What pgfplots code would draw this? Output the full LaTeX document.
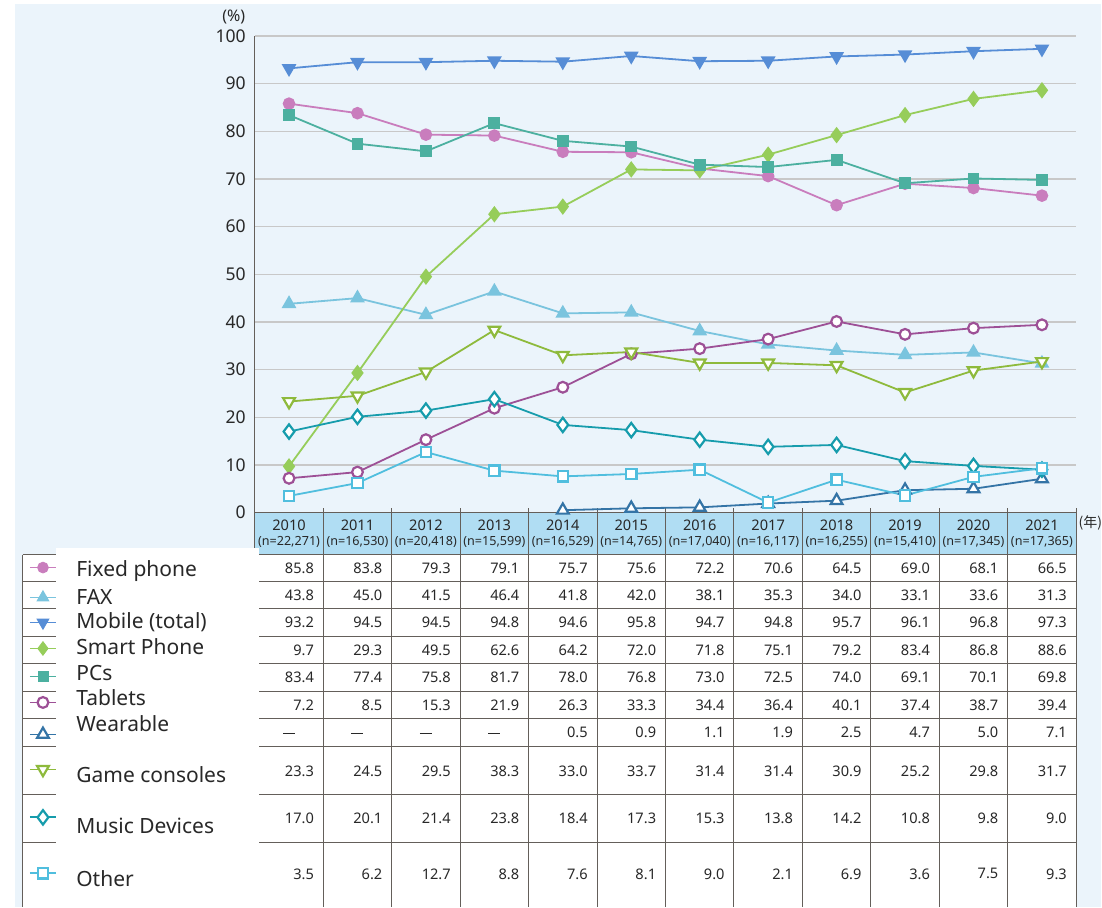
\documentclass[border=0pt]{standalone}
\usepackage{pgfplots}
\pgfplotsset{compat=1.18}
\usepackage{pgfplotstable}
\usepackage{fontspec}
\setmainfont{Noto Sans}
\newfontfamily\cjk{Noto Sans CJK JP}
\usetikzlibrary{plotmarks}

\definecolor{fixc}{RGB}{201,125,189}
\definecolor{faxc}{RGB}{122,196,222}
\definecolor{mobc}{RGB}{86,141,214}
\definecolor{smac}{RGB}{150,205,90}
\definecolor{pcsc}{RGB}{76,176,160}
\definecolor{tabc}{RGB}{157,80,150}
\definecolor{weac}{RGB}{52,116,166}
\definecolor{gamc}{RGB}{142,186,60}
\definecolor{musc}{RGB}{22,156,172}
\definecolor{othc}{RGB}{80,190,222}
\definecolor{bgc}{RGB}{235,244,251}
\definecolor{headc}{RGB}{176,221,243}
\definecolor{gridc}{RGB}{200,200,200}
\definecolor{tablec}{RGB}{100,95,90}
\definecolor{textc}{RGB}{40,40,40}

\pgfplotstableread{
year fix fax mob sma pcs tab wea gam mus oth
2010 85.8 43.8 93.2 9.7 83.4 7.2 nan 23.3 17.0 3.5
2011 83.8 45.0 94.5 29.3 77.4 8.5 nan 24.5 20.1 6.2
2012 79.3 41.5 94.5 49.5 75.8 15.3 nan 29.5 21.4 12.7
2013 79.1 46.4 94.8 62.6 81.7 21.9 nan 38.3 23.8 8.8
2014 75.7 41.8 94.6 64.2 78.0 26.3 0.5 33.0 18.4 7.6
2015 75.6 42.0 95.8 72.0 76.8 33.3 0.9 33.7 17.3 8.1
2016 72.2 38.1 94.7 71.8 73.0 34.4 1.1 31.4 15.3 9.0
2017 70.6 35.3 94.8 75.1 72.5 36.4 1.9 31.4 13.8 2.1
2018 64.5 34.0 95.7 79.2 74.0 40.1 2.5 30.9 14.2 6.9
2019 69.0 33.1 96.1 83.4 69.1 37.4 4.7 25.2 10.8 3.6
2020 68.1 33.6 96.8 86.8 70.1 38.7 5.0 29.8 9.8 7.5
2021 66.5 31.3 97.3 88.6 69.8 39.4 7.1 31.7 9.0 9.3
}\datatable

\newcommand{\tablerow}[2]{%
  \foreach \v [count=\i] in {#2} {%
    \node[anchor=east, inner sep=0pt, text=textc, font=\fontsize{7.3}{8}\selectfont] at ({255+68.5*\i-9}, #1) {\v};
  }%
}

\begin{document}
\begin{tikzpicture}
\begin{scope}[x=0.5pt,y=-0.5pt]
\path[use as bounding box, fill=white] (0,0) rectangle (1102,908);
\fill[bgc] (15,4) rectangle (1102,908);
\fill[white] (23,555) rectangle (1077,908);
\fill[headc] (255,513) rectangle (1077,555);
\end{scope}

\begin{axis}[
  at={(127.5pt,-256.5pt)}, anchor=south west,
  scale only axis, width=411pt, height=238.5pt,
  xmin=2009.5, xmax=2021.5, ymin=0, ymax=100,
  axis x line=bottom, axis y line=left,
  axis line style={-, draw=tablec, line width=0.6pt},
  xtick={2009.5,2010.5,2011.5,2012.5,2013.5,2014.5,2015.5,2016.5,2017.5,2018.5,2019.5,2020.5,2021.5},
  xticklabels={},
  tick align=inside, major tick length=2.5pt,
  xtick style={draw=tablec, line width=0.5pt},
  ytick={0,10,...,100}, ytick style={draw=none},
  ymajorgrids, grid style={gridc, line width=0.6pt},
  yticklabel style={font=\fontsize{8.8}{10}\selectfont, text=textc, xshift=-1pt},
  /pgf/number format/assume math mode=true,
  clip=false,
  every axis plot/.append style={line width=0.9pt},
]
\addplot[fixc, mark=*, mark size=2.7pt] table[x=year,y=fix] {\datatable};
\addplot[faxc, mark=triangle*, mark size=3.4pt] table[x=year,y=fax] {\datatable};
\addplot[mobc, mark=triangle*, mark size=3.4pt, mark options={rotate=180}] table[x=year,y=mob] {\datatable};
\addplot[smac, mark=diamond*, mark size=3.4pt] table[x=year,y=sma] {\datatable};
\addplot[pcsc, mark=square*, mark size=2.5pt] table[x=year,y=pcs] {\datatable};
\addplot[tabc, mark=*, mark size=2.7pt, mark options={fill=white, line width=1.1pt}] table[x=year,y=tab] {\datatable};
\addplot[weac, mark=triangle*, mark size=3.4pt, mark options={fill=white, line width=1.1pt}, unbounded coords=discard] table[x=year,y=wea] {\datatable};
\addplot[gamc, mark=triangle*, mark size=3.4pt, mark options={fill=white, rotate=180, line width=1.1pt}] table[x=year,y=gam] {\datatable};
\addplot[musc, mark=diamond*, mark size=3.6pt, mark options={fill=white, line width=1.1pt}] table[x=year,y=mus] {\datatable};
\addplot[othc, mark=square*, mark size=2.6pt, mark options={fill=white, line width=1.1pt}] table[x=year,y=oth] {\datatable};
\end{axis}

\begin{scope}[x=0.5pt,y=-0.5pt]
% axis label texts
\node[text=textc, font=\fontsize{8}{9}\selectfont] at (234,17) {(\%)};
\node[text=textc, font=\fontsize{7}{8}\cjk, anchor=west, inner sep=0pt] at (1079,523) {(年)};
% header
\foreach \yr/\n [count=\i] in {2010/22{,}271,2011/16{,}530,2012/20{,}418,2013/15{,}599,2014/16{,}529,2015/14{,}765,2016/17{,}040,2017/16{,}117,2018/16{,}255,2019/15{,}410,2020/17{,}345,2021/17{,}365} {
  \node[text=textc, inner sep=0pt, font=\fontsize{7.3}{8}\selectfont] at ({255+68.5*\i-34.25}, 526) {\yr};
  \node[text=textc, inner sep=0pt, font=\fontsize{6.3}{7}\selectfont] at ({255+68.5*\i-34.25}, 542) {(n=\n)};
}
% grid lines
\foreach \yy in {555,582,609,637,664,692,719,747,795,843} {
  \draw[tablec, line width=0.5pt] (23,\yy) -- (1077,\yy);
}
\foreach \k in {0,...,12} {
  \draw[tablec, line width=0.5pt] ({255+68.5*\k},513) -- ({255+68.5*\k},908);
}
\draw[tablec, line width=0.5pt] (23,555) -- (23,908);
% values
\tablerow{568.5}{85.8,83.8,79.3,79.1,75.7,75.6,72.2,70.6,64.5,69.0,68.1,66.5}
\tablerow{595.5}{43.8,45.0,41.5,46.4,41.8,42.0,38.1,35.3,34.0,33.1,33.6,31.3}
\tablerow{623}{93.2,94.5,94.5,94.8,94.6,95.8,94.7,94.8,95.7,96.1,96.8,97.3}
\tablerow{650.5}{9.7,29.3,49.5,62.6,64.2,72.0,71.8,75.1,79.2,83.4,86.8,88.6}
\tablerow{678}{83.4,77.4,75.8,81.7,78.0,76.8,73.0,72.5,74.0,69.1,70.1,69.8}
\tablerow{705.5}{7.2,8.5,15.3,21.9,26.3,33.3,34.4,36.4,40.1,37.4,38.7,39.4}
\foreach \i in {1,...,4} {
  \draw[textc, line width=0.5pt] ({255+68.5*\i-34.25-6},734) -- ({255+68.5*\i-34.25+6},734);
}
\tablerow{733}{,,,,0.5,0.9,1.1,1.9,2.5,4.7,5.0,7.1}
\tablerow{771.5}{23.3,24.5,29.5,38.3,33.0,33.7,31.4,31.4,30.9,25.2,29.8,31.7}
\tablerow{819}{17.0,20.1,21.4,23.8,18.4,17.3,15.3,13.8,14.2,10.8,9.8,9.0}
\tablerow{874.5}{3.5,6.2,12.7,8.8,7.6,8.1,9.0,2.1,6.9,3.6,7.5,9.3}
% legend box
\fill[white] (56,548) rectangle (259,908);
% legend glyphs
\foreach \yy/\c in {568/fixc,598/faxc,623/mobc,649/smac,677/pcsc,703/tabc,735/weac,770/gamc,818/musc,874/othc} {
  \draw[\c, line width=0.9pt] (30,\yy) -- (56,\yy);
}
\draw[fixc] plot[mark=*, mark size=2.7pt, mark options={fill=fixc}] coordinates {(43,568)};
\draw[faxc] plot[mark=triangle*, mark size=3.4pt, mark options={fill=faxc}] coordinates {(43,598)};
\draw[mobc] plot[mark=triangle*, mark size=3.4pt, mark options={fill=mobc,rotate=180}] coordinates {(43,623)};
\draw[smac] plot[mark=diamond*, mark size=3.4pt, mark options={fill=smac}] coordinates {(43,649)};
\draw[pcsc] plot[mark=square*, mark size=2.5pt, mark options={fill=pcsc}] coordinates {(43,677)};
\draw[tabc, line width=1.1pt] plot[mark=*, mark size=2.7pt, mark options={fill=white}] coordinates {(43,703)};
\draw[weac, line width=1.1pt] plot[mark=triangle*, mark size=3.4pt, mark options={fill=white}] coordinates {(43,735)};
\draw[gamc, line width=1.1pt] plot[mark=triangle*, mark size=3.4pt, mark options={fill=white,rotate=180}] coordinates {(43,770)};
\draw[musc, line width=1.1pt] plot[mark=diamond*, mark size=3.6pt, mark options={fill=white}] coordinates {(43,818)};
\draw[othc, line width=1.1pt] plot[mark=square*, mark size=2.6pt, mark options={fill=white}] coordinates {(43,874)};
% legend labels
\foreach \yy/\t in {571/Fixed phone,597/FAX,623/Mobile (total),647/Smart Phone,674/PCs,698/Tablets,724/Wearable,775/Game consoles,827/Music Devices,879/Other} {
  \node[anchor=west, inner sep=0pt, text=textc, font=\fontsize{10.5}{12}\selectfont] at (76,\yy) {\t};
}
\end{scope}
\end{tikzpicture}
\end{document}
